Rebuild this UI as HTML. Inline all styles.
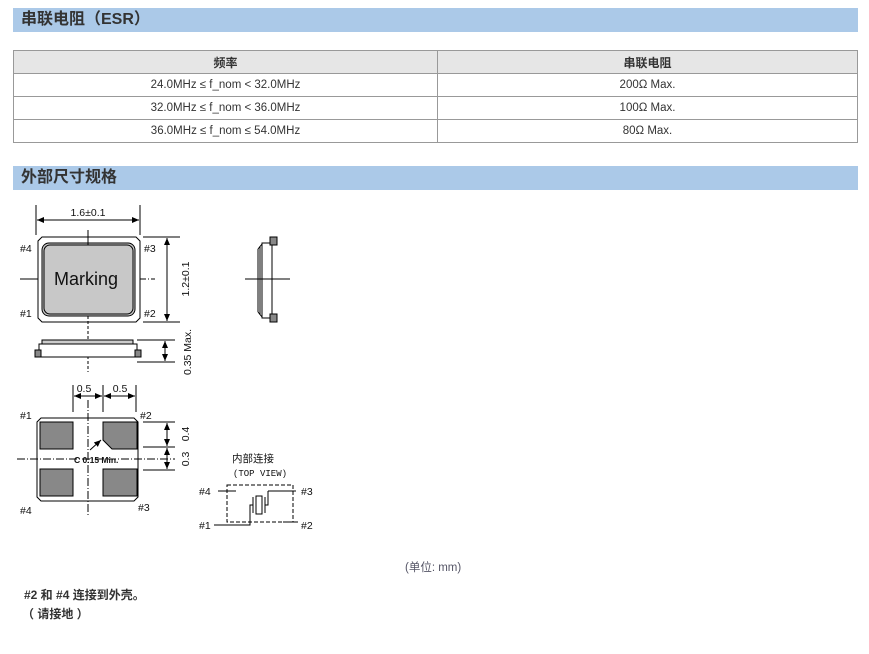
<!DOCTYPE html>
<html><head><meta charset="utf-8"><style>
body{margin:0;width:869px;height:654px;background:#fff;position:relative;font-family:"Liberation Sans","Noto Sans CJK SC",sans-serif;color:#333;overflow:hidden}
.bar{position:absolute;left:13px;width:845px;height:24px;background:#abc9e8;font-weight:bold;font-size:16px;line-height:24px;padding-left:8px;box-sizing:border-box;color:#333}
table{position:absolute;left:13px;top:50px;width:845px;border-collapse:collapse;font-size:11.5px}
td,th{border:1px solid #999;height:22px;padding:0;text-align:center}
th{background:#e6e6e6;font-size:12px}
.abs{position:absolute;white-space:nowrap}
</style></head><body>
<div class="bar" style="top:8px">串联电阻（ESR）</div>
<table>
<tr><th style="width:423px">频率</th><th>串联电阻</th></tr>
<tr><td>24.0MHz ≤ f_nom &lt; 32.0MHz</td><td>200Ω Max.</td></tr>
<tr><td>32.0MHz ≤ f_nom &lt; 36.0MHz</td><td>100Ω Max.</td></tr>
<tr><td>36.0MHz ≤ f_nom ≤ 54.0MHz</td><td>80Ω Max.</td></tr>
</table>
<div class="bar" style="top:166px">外部尺寸规格</div>
<svg class="abs" style="left:0;top:0" width="869" height="654" viewBox="0 0 869 654" font-family="Liberation Sans, sans-serif" font-size="10.5" fill="#111">
<defs><marker id="a" markerWidth="8" markerHeight="8" refX="7" refY="4" orient="auto-start-reverse"><path d="M0,1 L7,4 L0,7z" fill="#000"/></marker></defs>
<g stroke="#000" stroke-width="1" fill="none">
<!-- top view -->
<path d="M42,237 H136 L140,241 V318 L136,322 H42 L38,318 V241z" fill="#fff"/>
<rect x="42" y="243" width="93" height="73" rx="7" fill="#c8c8c8"/>
<rect x="44" y="245" width="89" height="69" rx="6"/>
<line x1="36" y1="205" x2="36" y2="235"/><line x1="140" y1="205" x2="140" y2="235"/>
<line x1="37" y1="220" x2="139" y2="220" marker-start="url(#a)" marker-end="url(#a)"/>
<line x1="143" y1="237" x2="180" y2="237"/><line x1="143" y1="322" x2="180" y2="322"/>
<line x1="167" y1="238" x2="167" y2="321" marker-start="url(#a)" marker-end="url(#a)"/>
<line x1="20" y1="279" x2="38" y2="279"/><line x1="140" y1="279" x2="155" y2="279" stroke-dasharray="6,2,1,2"/>
<line x1="88" y1="230" x2="88" y2="245"/><line x1="88" y1="316" x2="88" y2="372" stroke-dasharray="3,2"/>
<!-- side view -->
<rect x="42" y="340" width="91" height="4" fill="#ccc"/>
<rect x="39" y="344" width="98" height="13" fill="#fff"/>
<rect x="35" y="350" width="6" height="7" fill="#888"/><rect x="135" y="350" width="6" height="7" fill="#888"/>
<line x1="137" y1="340" x2="175" y2="340"/><line x1="137" y1="362" x2="175" y2="362"/>
<line x1="165" y1="341" x2="165" y2="361" marker-start="url(#a)" marker-end="url(#a)"/>
<!-- right side view -->
<rect x="262" y="243" width="10" height="75" fill="#fff"/>
<line x1="258" y1="249" x2="258" y2="312"/><line x1="260" y1="246" x2="260" y2="315"/>
<path d="M258,249 L262,244 M258,312 L262,317"/>
<rect x="270" y="237" width="7" height="8" fill="#888"/><rect x="270" y="314" width="7" height="8" fill="#888"/>
<line x1="245" y1="279" x2="290" y2="279"/>
<!-- bottom view -->
<path d="M41,418 H134 L138,422 V497 L134,501 H41 L37,497 V422z" fill="#fff"/>
<rect x="40" y="422" width="33" height="27" fill="#888"/>
<path d="M103,422 H137 V449 H112 L103,440z" fill="#888"/>
<rect x="40" y="469" width="33" height="27" fill="#888"/>
<rect x="103" y="469" width="34" height="27" fill="#888"/>
<line x1="17" y1="459" x2="175" y2="459" stroke-dasharray="8,2,1,2"/>
<line x1="88" y1="400" x2="88" y2="517" stroke-dasharray="8,2,1,2"/>
<line x1="73" y1="385" x2="73" y2="412"/><line x1="103" y1="385" x2="103" y2="412"/><line x1="136" y1="385" x2="136" y2="412"/>
<line x1="74" y1="396" x2="102" y2="396" marker-start="url(#a)" marker-end="url(#a)"/>
<line x1="104" y1="396" x2="135" y2="396" marker-start="url(#a)" marker-end="url(#a)"/>
<line x1="143" y1="422" x2="175" y2="422"/><line x1="143" y1="447" x2="175" y2="447"/><line x1="143" y1="470" x2="175" y2="470"/>
<line x1="167" y1="423" x2="167" y2="446" marker-start="url(#a)" marker-end="url(#a)"/>
<line x1="167" y1="448" x2="167" y2="469" marker-start="url(#a)" marker-end="url(#a)"/>
<line x1="90" y1="450" x2="101" y2="440" marker-end="url(#a)"/>
<!-- circuit -->
<rect x="227" y="485" width="66" height="37" stroke-dasharray="4,2"/>
<line x1="218" y1="491" x2="236" y2="491"/><line x1="268" y1="491" x2="296" y2="491"/>
<path d="M214,525 H250 V505 H253 M265,505 H268 V491"/>
<line x1="283" y1="522" x2="298" y2="522"/>
<line x1="253" y1="497" x2="253" y2="513"/><rect x="256" y="496" width="6" height="18"/><line x1="265" y1="497" x2="265" y2="513"/>
</g>
<text x="86" y="285" font-size="18" text-anchor="middle" fill="#111">Marking</text>
<text x="88" y="216" text-anchor="middle">1.6±0.1</text>
<text transform="translate(189,279) rotate(-90)" text-anchor="middle">1.2±0.1</text>
<text transform="translate(191,352) rotate(-90)" text-anchor="middle">0.35 Max.</text>
<text x="20" y="252">#4</text><text x="144" y="252">#3</text>
<text x="20" y="317">#1</text><text x="144" y="317">#2</text>
<text x="84" y="392" text-anchor="middle">0.5</text><text x="120" y="392" text-anchor="middle">0.5</text>
<text x="20" y="419">#1</text><text x="140" y="419">#2</text>
<text x="20" y="514">#4</text><text x="138" y="511">#3</text>
<text x="74" y="463" font-size="8.5" font-weight="bold">C 0.15 Min.</text>
<text transform="translate(189,434) rotate(-90)" text-anchor="middle">0.4</text>
<text transform="translate(189,459) rotate(-90)" text-anchor="middle">0.3</text>
<text x="253" y="462" text-anchor="middle" font-family="Liberation Sans, Noto Sans CJK SC, sans-serif">内部连接</text>
<text x="260" y="476" text-anchor="middle" font-family="Liberation Mono, monospace" font-size="9">(TOP VIEW)</text>
<text x="199" y="495">#4</text><text x="301" y="495">#3</text>
<text x="199" y="529">#1</text><text x="301" y="529">#2</text>
</svg>
<div class="abs" style="left:405px;top:559px;font-size:11.5px;color:#556">(单位: mm)</div>
<div class="abs" style="left:24px;top:586px;font-size:12px;font-weight:bold">#2 和 #4 连接到外壳。</div>
<div class="abs" style="left:22px;top:605px;font-size:12px;font-weight:bold">（ 请接地 ）</div>
</body></html>
